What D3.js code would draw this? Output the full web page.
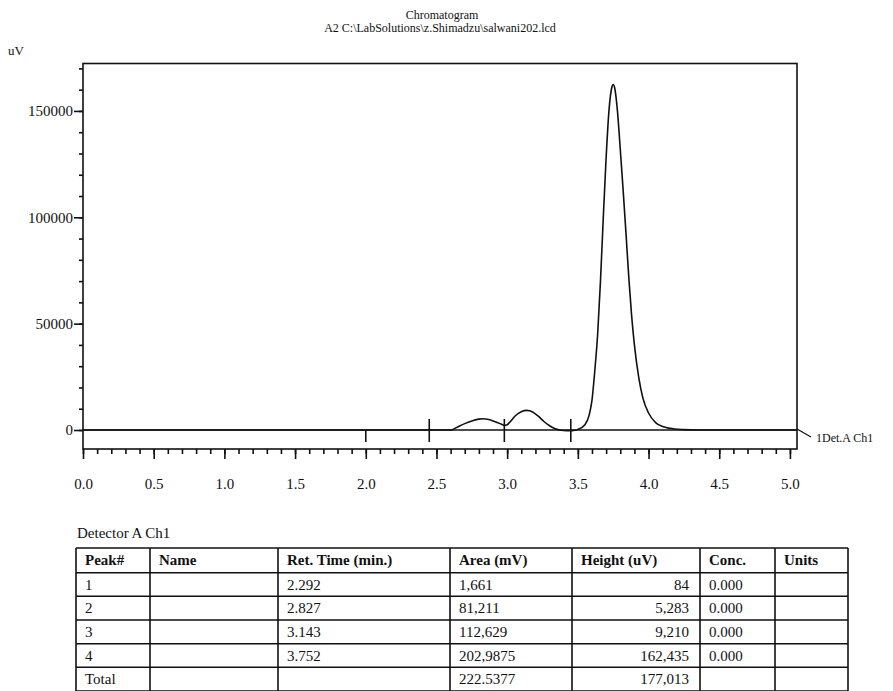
<!DOCTYPE html>
<html>
<head>
<meta charset="utf-8">
<script src="https://cdn.jsdelivr.net/npm/d3@7"></script>
<style>
  body { margin: 0; background: #fff; }
  svg text { font-family: "Liberation Serif", "Times New Roman", serif; fill: #111; }
</style>
</head>
<body>
<div id="chart"></div>
<script>
let WIDTH = 893
let HEIGHT = 691

// detector trace (min, uV)
let traceTime = [0, 2.0, 2.45, 2.6, 2.62, 2.66, 2.70, 2.75, 2.80, 2.83, 2.87, 2.91, 2.95, 2.98,
    3.00, 3.03, 3.06, 3.10, 3.14, 3.18, 3.22, 3.26, 3.30, 3.34, 3.38, 3.42, 3.46, 3.48,
    3.50, 3.55, 3.58, 3.60, 3.62, 3.64, 3.66, 3.68, 3.70, 3.72, 3.74, 3.75, 3.76, 3.78,
    3.80, 3.82, 3.84, 3.86, 3.88, 3.90, 3.93, 3.96, 4.00, 4.05, 4.10, 4.15, 4.25, 4.35, 5.05]
let traceUV = [0, 0, 0, 0, 400, 1800, 3000, 4200, 5100, 5283, 4900, 4000, 3000, 2200,
    2500, 4500, 6800, 8600, 9210, 8500, 6500, 4000, 2000, 600, -100, -300, -300, -100,
    300, 2500, 7000, 14000, 28000, 45000, 70000, 100000, 128000, 150000, 161000, 162435, 161000, 150000,
    132000, 113000, 93000, 72000, 54000, 40000, 25000, 15000, 8000, 3500, 1600, 800, 200, 0, 0]

// integration marks
let markTime = [2.0, 2.449, 2.98, 3.45]
let markAbove = [false, true, true, true]

let xMajor = [0, 0.5, 1.0, 1.5, 2.0, 2.5, 3.0, 3.5, 4.0, 4.5, 5.0]
let yMajor = [0, 50000, 100000, 150000]
let xDomain = [0, 5.05]
let yDomain = [-8930, 172300]

// peak table
let tableHead = ["Peak#", "Name", "Ret. Time (min.)", "Area (mV)", "Height (uV)", "Conc.", "Units"]
let peakNo = ["1", "2", "3", "4", "Total"]
let peakName = ["", "", "", "", ""]
let retTime = ["2.292", "2.827", "3.143", "3.752", ""]
let peakArea = ["1,661", "81,211", "112,629", "202,9875", "222.5377"]
let peakHeight = ["84", "5,283", "9,210", "162,435", "177,013"]
let peakConc = ["0.000", "0.000", "0.000", "0.000", ""]
let peakUnits = ["", "", "", "", ""]

let svg = d3.select("#chart")
    .append('svg')
    .attr('width', WIDTH)
    .attr('height', HEIGHT)

svg.append('rect').attr('width', WIDTH).attr('height', HEIGHT).attr('fill', '#fff')

let plotL = 83, plotR = 797, plotT = 63.5, plotB = 449

let x = d3.scaleLinear().domain(xDomain).range([plotL, plotR])
let y = d3.scaleLinear().domain(yDomain).range([plotB, plotT])

// titles
svg.append('text').attr('x', 442).attr('y', 19).attr('text-anchor', 'middle')
    .style('font-size', '12px').text('Chromatogram')
svg.append('text').attr('x', 440).attr('y', 32).attr('text-anchor', 'middle')
    .style('font-size', '12px').text('A2 C:\\LabSolutions\\z.Shimadzu\\salwani202.lcd')
svg.append('text').attr('x', 8).attr('y', 55)
    .style('font-size', '13px').text('uV')

// frame
svg.append('rect')
    .attr('x', plotL).attr('y', plotT)
    .attr('width', plotR - plotL).attr('height', plotB - plotT)
    .attr('fill', 'none').attr('stroke', '#111').attr('stroke-width', 1.6)

// y axis: minor + major
let yMinor = d3.range(0, 172300, 10000)
svg.append('g').attr('transform', `translate(${plotL},0)`)
    .call(d3.axisLeft(y).tickValues(yMinor).tickSize(4).tickFormat(''))
svg.append('g').attr('class', 'ymaj').attr('transform', `translate(${plotL},0)`)
    .call(d3.axisLeft(y).tickValues(yMajor).tickSize(9).tickPadding(1).tickFormat(d3.format('d')))

// x axis: minor + major
let xMinor = d3.range(0, 51).map(i => i / 10)
svg.append('g').attr('transform', `translate(0,${plotB})`)
    .call(d3.axisBottom(x).tickValues(xMinor).tickSize(5).tickFormat(''))
svg.append('g').attr('class', 'xmaj').attr('transform', `translate(0,${plotB})`)
    .call(d3.axisBottom(x).tickValues(xMajor).tickSize(10).tickPadding(19).tickFormat(d3.format('.1f')))

svg.selectAll('.domain').remove()
svg.selectAll('.tick line').attr('stroke', '#111').attr('stroke-width', 1.6)
svg.selectAll('.ymaj text, .xmaj text')
    .style('font-family', '"Liberation Serif", serif').style('font-size', '15px').attr('fill', '#111')

// baseline
svg.append('line')
    .attr('x1', x(xDomain[0])).attr('x2', x(xDomain[1]))
    .attr('y1', y(0)).attr('y2', y(0))
    .attr('stroke', '#111').attr('stroke-width', 1.5)

// trace
let line = d3.line()
    .x((d, i) => x(traceTime[i]))
    .y(d => y(d))
    .curve(d3.curveMonotoneX)
svg.append('path').datum(traceUV)
    .attr('d', line)
    .attr('fill', 'none').attr('stroke', '#111').attr('stroke-width', 1.6)

// integration marks
svg.selectAll('.mark').data(markTime).join('line')
    .attr('class', 'mark')
    .attr('x1', d => x(d)).attr('x2', d => x(d))
    .attr('y1', (d, i) => markAbove[i] ? y(0) - 11 : y(0))
    .attr('y2', y(0) + 12)
    .attr('stroke', '#111').attr('stroke-width', 1.6)

// channel label
svg.append('line')
    .attr('x1', plotR).attr('y1', y(0) - 1)
    .attr('x2', plotR + 14).attr('y2', y(0) + 7)
    .attr('stroke', '#111').attr('stroke-width', 1.2)
svg.append('text').attr('x', 816).attr('y', 442)
    .style('font-size', '12px').text('1Det.A Ch1')

// table
svg.append('text').attr('x', 77).attr('y', 538)
    .style('font-size', '15px').text('Detector A Ch1')

let colX = [76, 150, 278, 450, 572, 700, 775, 848]
let rowY = [548, 572.7, 596.3, 620, 643.7, 667.3, 691]
let tableRows = peakNo.map((p, i) => [p, peakName[i], retTime[i], peakArea[i], peakHeight[i], peakConc[i], peakUnits[i]])

let tbl = svg.append('g')
tbl.selectAll('.hl').data(rowY).join('line')
    .attr('x1', colX[0]).attr('x2', colX[colX.length - 1])
    .attr('y1', d => d).attr('y2', d => d)
    .attr('stroke', '#111').attr('stroke-width', 1.6)
tbl.selectAll('.vl').data(colX).join('line')
    .attr('x1', d => d).attr('x2', d => d)
    .attr('y1', rowY[0]).attr('y2', rowY[rowY.length - 1])
    .attr('stroke', '#111').attr('stroke-width', 1.6)

tbl.selectAll('.th').data(tableHead).join('text')
    .attr('x', (d, i) => colX[i] + 9)
    .attr('y', (rowY[0] + rowY[1]) / 2 + 5)
    .style('font-size', '15px').style('font-weight', 'bold')
    .text(d => d)

tableRows.forEach((row, r) => {
    let cy = (rowY[r + 1] + rowY[r + 2]) / 2 + 5
    tbl.selectAll('.r' + r).data(row).join('text')
        .attr('class', 'r' + r)
        .attr('x', (d, i) => i === 4 ? colX[i + 1] - 11 : colX[i] + 9)
        .attr('y', cy)
        .attr('text-anchor', (d, i) => i === 4 ? 'end' : 'start')
        .style('font-size', '15px')
        .text(d => d)
})
</script>
</body>
</html>
